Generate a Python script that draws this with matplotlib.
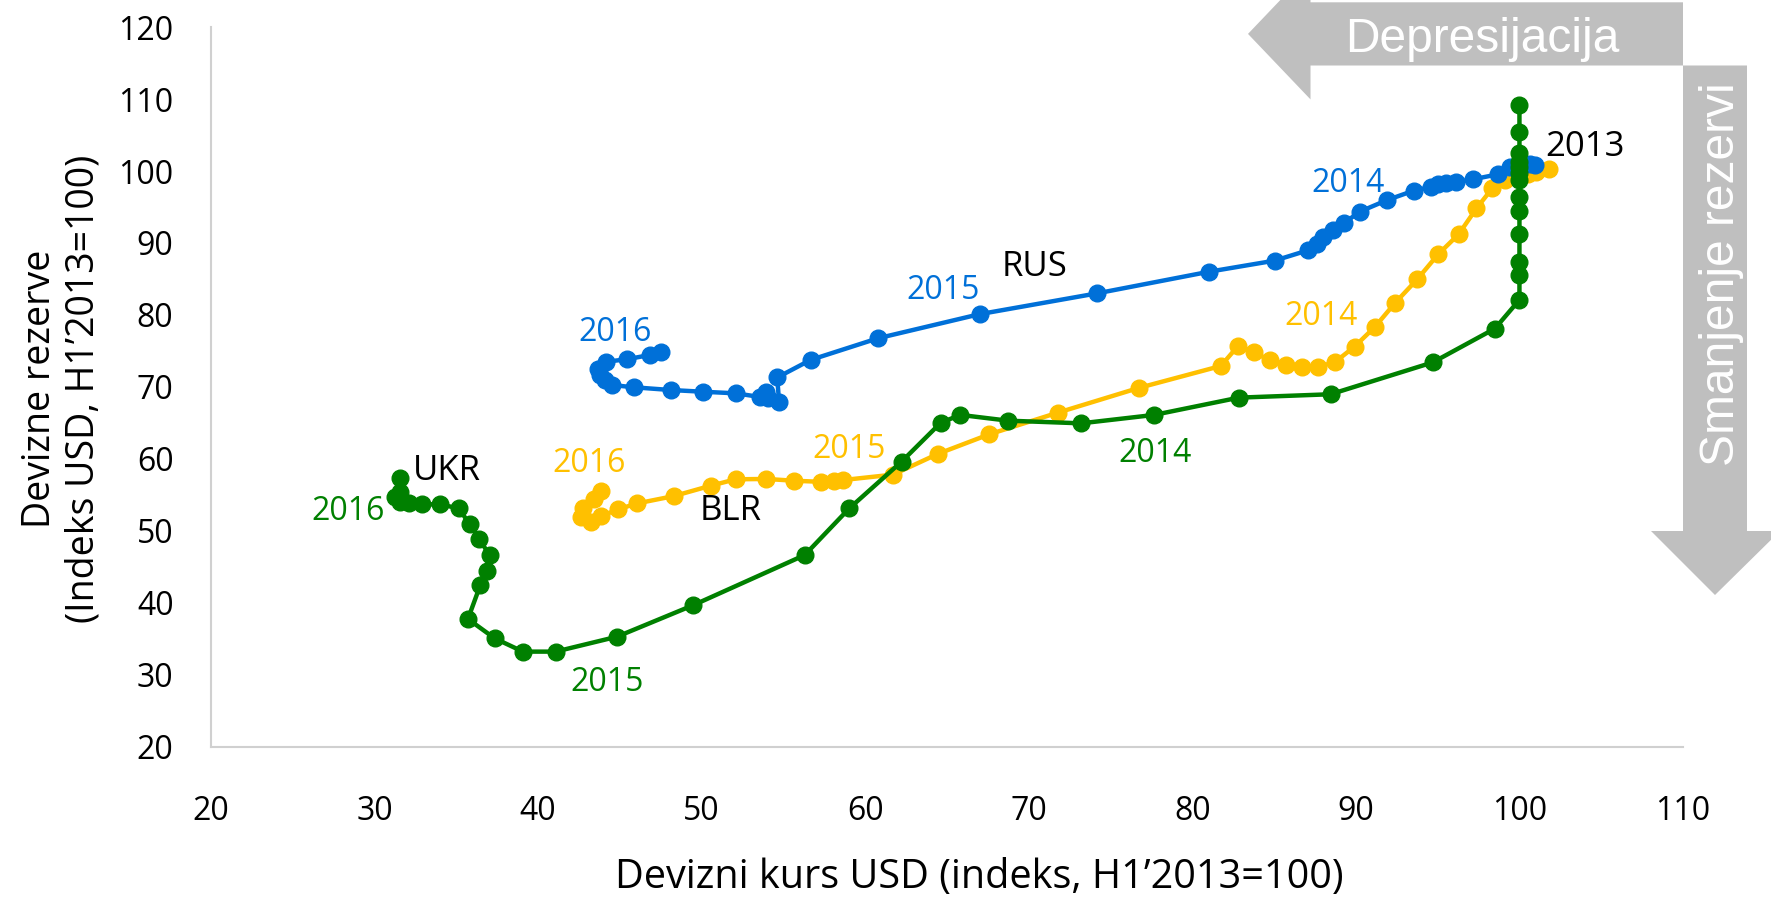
import matplotlib
matplotlib.use("Agg")
import matplotlib.pyplot as plt
from matplotlib.patches import Polygon

# ---------------- data ----------------
rus_x = [100.94, 100.63, 99.91, 99.41, 98.69, 97.17, 96.15, 95.53, 95.02, 94.62, 93.54, 91.91,
         90.24, 89.3, 88.6, 88.0, 87.6, 87.1, 85.03, 81.02, 74.19, 66.99, 60.78, 56.66, 54.62,
         54.73, 54.05, 53.96, 53.55, 52.08, 50.08, 48.11, 45.84, 44.54, 44.07, 43.76, 43.66,
         44.17, 45.43, 46.82, 47.53]
rus_y = [100.8, 100.97, 100.8, 100.6, 99.54, 98.85, 98.5, 98.38, 98.2, 97.8, 97.27, 95.96,
         94.35, 92.8, 91.8, 90.8, 89.9, 89.0, 87.54, 86.0, 83.0, 80.1, 76.75, 73.74, 71.3,
         67.94, 68.4, 69.3, 68.6, 69.1, 69.32, 69.56, 69.94, 70.25, 70.96, 71.65, 72.5,
         73.5, 73.83, 74.43, 74.8]

blr_x = [100.3, 101.0, 101.8, 100.5, 99.1, 98.34, 97.37, 96.28, 95.02, 93.76, 92.41, 91.15,
         89.92, 88.7, 87.68, 86.73, 85.75, 84.73, 83.77, 82.8, 81.74, 76.74, 71.76, 67.58,
         64.46, 61.7, 58.65, 58.1, 57.32, 55.65, 53.96, 52.08, 50.55, 48.32, 46.06, 44.89,
         43.87, 43.26, 42.65, 42.72, 43.43, 43.87]
blr_y = [100.0, 99.8, 100.24, 99.6, 98.74, 97.6, 94.8, 91.2, 88.4, 84.97, 81.7, 78.3,
         75.6, 73.4, 72.8, 72.8, 73.1, 73.7, 74.8, 75.7, 72.9, 69.86, 66.4, 63.4,
         60.7, 57.8, 57.05, 56.95, 56.8, 56.95, 57.2, 57.15, 56.26, 54.83, 53.8, 52.98,
         52.05, 51.26, 51.95, 53.1, 54.4, 55.5]

ukr_x = [100.0, 100.0, 100.0, 100.0, 100.0, 100.0, 100.0, 100.0, 100.0, 100.0, 100.0, 100.0,
         100.0, 98.5, 94.7, 88.45, 82.84, 77.67, 73.2, 68.73, 65.82, 64.62, 62.22, 59.02,
         56.3, 49.47, 44.82, 41.07, 39.07, 37.34, 35.71, 36.47, 36.87, 37.03, 36.39, 35.81,
         35.16, 33.99, 32.93, 32.11, 31.54, 31.24, 31.54, 31.58]
ukr_y = [109.2, 105.4, 102.5, 101.3, 100.6, 99.7, 98.8, 96.4, 94.5, 91.2, 87.3, 85.5,
         82.1, 78.1, 73.4, 68.97, 68.5, 66.1, 64.93, 65.3, 66.1, 65.02, 59.6, 53.1,
         46.62, 39.64, 35.27, 33.2, 33.2, 35.05, 37.74, 42.47, 44.44, 46.6, 48.9, 50.9,
         53.1, 53.68, 53.68, 53.8, 54.0, 54.74, 55.43, 57.38]

x_ticks = [20, 30, 40, 50, 60, 70, 80, 90, 100, 110]
y_ticks = [20, 30, 40, 50, 60, 70, 80, 90, 100, 110, 120]

# labels: (text, x, y, color, size)
labels = [
    ("2013", 104.0, 103.4, "black", 25),
    ("RUS", 70.35, 86.6, "black", 25),
    ("BLR", 51.8, 52.8, "black", 25),
    ("UKR", 34.4, 58.3, "black", 25),
    ("2014", 89.55, 98.2, "#0070D8", 23),
    ("2015", 64.75, 83.4, "#0070D8", 23),
    ("2016", 44.7, 77.5, "#0070D8", 23),
    ("2014", 87.9, 79.8, "#FFC000", 23),
    ("2015", 59.0, 61.3, "#FFC000", 23),
    ("2016", 43.1, 59.4, "#FFC000", 23),
    ("2014", 77.74, 60.7, "#008000", 23),
    ("2015", 44.24, 28.95, "#008000", 23),
    ("2016", 28.36, 52.65, "#008000", 23),
]

# ---------------- figure ----------------
W, H = 1771, 898
plt.rcParams['font.family'] = ['Open Sans', 'DejaVu Sans']
fig = plt.figure(figsize=(W / 100, H / 100), dpi=100)

def fx(px):
    return px / W

def fy(py):
    return 1 - py / H

ax = fig.add_axes([fx(211), fy(746.6), fx(1683) - fx(211), fy(27.1) - fy(746.6)])
ax.set_xlim(20, 110)
ax.set_ylim(20, 120)

ax.plot(blr_x, blr_y, color="#FFC000", lw=3.2, marker="o", ms=12, zorder=3)
ax.plot(rus_x, rus_y, color="#0070D8", lw=3.2, marker="o", ms=12, zorder=4)
ax.plot(ukr_x, ukr_y, color="#008000", lw=3.2, marker="o", ms=12, zorder=5)

for t, x, y, c, s in labels:
    ax.text(x, y, t, color=c, fontsize=s, ha="center", va="center", zorder=6)

ax.set_xticks(x_ticks)
ax.set_yticks(y_ticks)
ax.tick_params(axis="both", length=0, labelsize=23, colors="black")
ax.tick_params(axis="x", pad=35)
ax.tick_params(axis="y", pad=27)
for s in ["top", "right"]:
    ax.spines[s].set_visible(False)
for s in ["left", "bottom"]:
    ax.spines[s].set_color("#D0D0D0")
    ax.spines[s].set_linewidth(1.5)

fig.text(fx(979), fy(878), "Devizni kurs USD (indeks, H1\u20192013=100)",
         fontsize=28.5, ha="center", va="center")
fig.text(fx(62), fy(389), "Devizne rezerve\n(Indeks USD, H1\u20192013=100)",
         fontsize=27, ha="center", va="center", rotation=90, linespacing=1.2)

# ---------------- arrows ----------------
gray = "#BFBFBF"
left_arrow = [(1248, 33.9), (1310.5, -31.6), (1310.5, 2.3), (1683, 2.3),
              (1683, 65.5), (1310.5, 65.5), (1310.5, 99.4)]
down_arrow = [(1683, 65.5), (1747, 65.5), (1747, 531), (1780, 531),
              (1715, 595), (1651, 531), (1683, 531)]
for poly in (left_arrow, down_arrow):
    fig.patches.append(Polygon([(fx(px), fy(py)) for px, py in poly], closed=True,
                               transform=fig.transFigure, facecolor=gray,
                               edgecolor="none", zorder=1))

fig.text(fx(1482), fy(40), "Depresijacija", color="white", fontsize=34.5,
         family="Liberation Sans", ha="center", va="center")
fig.text(fx(1721), fy(274), "Smanjenje rezervi", color="white", fontsize=34.5,
         family="Liberation Sans", ha="center", va="center", rotation=90)

fig.savefig("out.png", dpi=100)
